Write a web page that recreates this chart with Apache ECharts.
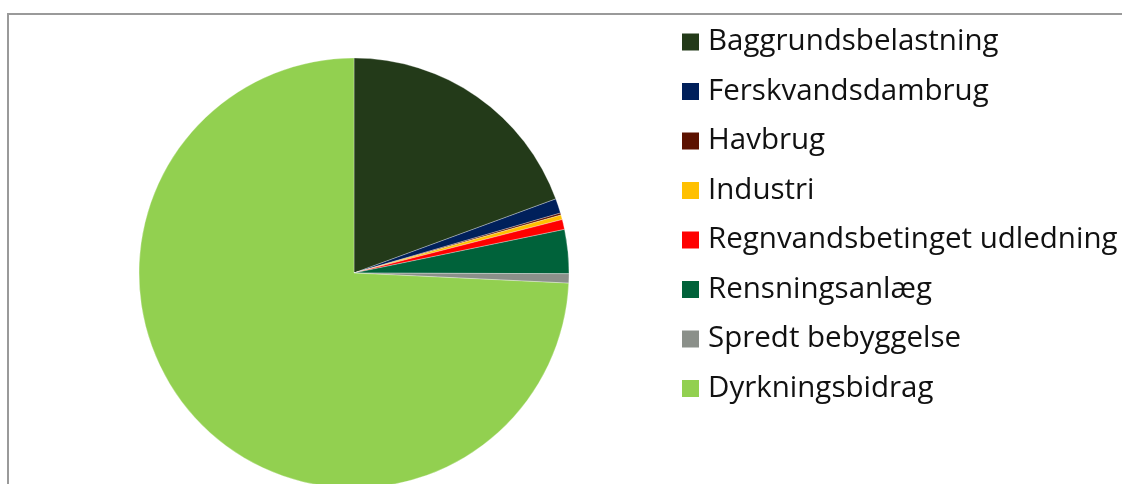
<!DOCTYPE html>
<html>
<head>
<meta charset="utf-8">
<script src="https://cdn.jsdelivr.net/npm/echarts@6/dist/echarts.min.js"></script>
<style>
  html, body { margin: 0; padding: 0; background: #fff; }
  #main { width: 1122px; height: 484px; }
</style>
</head>
<body>
<div id="main"></div>
<script>
// share of load per source (%)
const categories = [
    'Baggrundsbelastning',
    'Ferskvandsdambrug',
    'Havbrug',
    'Industri',
    'Regnvandsbetinget udledning',
    'Rensningsanlæg',
    'Spredt bebyggelse',
    'Dyrkningsbidrag'
];
const values = [19.4, 1.1, 0.15, 0.35, 0.75, 3.3, 0.7, 74.25];
const colors = ['#233a19', '#00205b', '#5c1100', '#ffc000', '#ff0000', '#00623a', '#8b908a', '#92d050'];

let chart = echarts.init(document.getElementById('main'));

let data = categories.map((name, i) => ({ name: name, value: values[i] }));

let option = {
    animation: false,
    color: colors,
    graphic: [{
        type: 'rect',
        shape: { x: 8, y: 14, width: 1300, height: 700 },
        style: { fill: 'none', stroke: '#9a9a9a', lineWidth: 2 },
        silent: true
    }],
    legend: {
        orient: 'vertical',
        left: 680,
        top: 27,
        padding: 0,
        icon: 'rect',
        itemWidth: 19,
        itemHeight: 19,
        itemGap: 19.5,
        selectedMode: false,
        textStyle: {
            fontFamily: 'Open Sans',
            fontSize: 29.5,
            color: '#111',
            padding: [0, 0, 0, 3]
        }
    },
    series: [{
        type: 'pie',
        center: [354, 273],
        radius: 215,
        startAngle: 90,
        clockwise: true,
        label: { show: false },
        labelLine: { show: false },
        itemStyle: { borderColor: '#fff', borderWidth: 0.3 },
        emphasis: { disabled: true },
        data: data
    }]
};

chart.setOption(option);

window.onresize = () => {
    chart.resize();
};
</script>
</body>
</html>
